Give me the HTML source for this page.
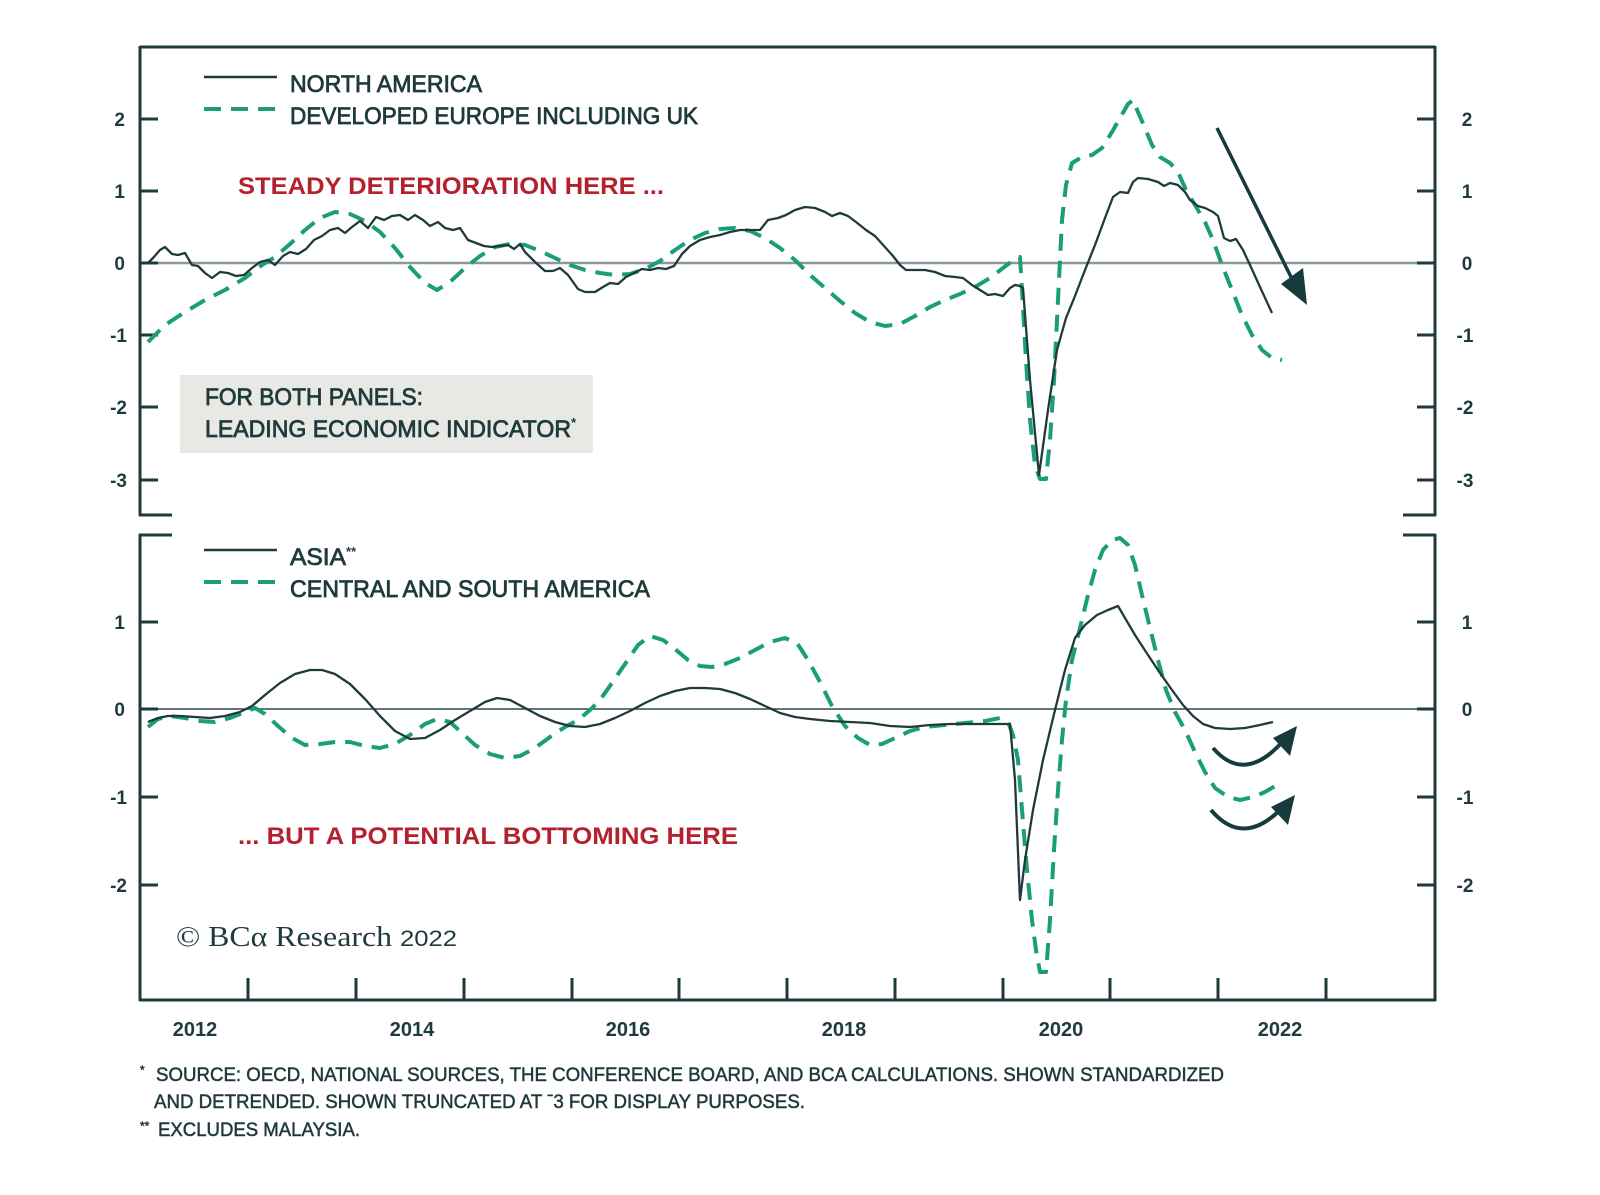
<!DOCTYPE html>
<html>
<head>
<meta charset="utf-8">
<style>
html,body{margin:0;padding:0;background:#ffffff;}
svg{display:block;}
</style>
</head>
<body>
<svg width="1600" height="1195" viewBox="0 0 1600 1195" xmlns="http://www.w3.org/2000/svg" style="font-family:'Liberation Sans',sans-serif;">
<rect width="1600" height="1195" fill="#ffffff"/>

<!-- gray box -->
<rect x="180" y="375" width="413" height="78" fill="#e8e8e4"/>

<!-- zero lines -->
<line x1="140" y1="263" x2="1435" y2="263" stroke="#8a989a" stroke-width="2.5"/>
<line x1="140" y1="709" x2="1435" y2="709" stroke="#2e4a4c" stroke-width="1.6"/>

<!-- frame -->
<g stroke="#1f3a3d" stroke-width="3" fill="none">
  <line x1="140" y1="47" x2="1435" y2="47"/>
  <line x1="140" y1="46" x2="140" y2="516"/>
  <line x1="1435" y1="46" x2="1435" y2="516"/>
  <line x1="139" y1="515" x2="172" y2="515"/>
  <line x1="1403" y1="515" x2="1436" y2="515"/>
  <line x1="139" y1="535" x2="172" y2="535"/>
  <line x1="1403" y1="535" x2="1436" y2="535"/>
  <line x1="140" y1="534" x2="140" y2="1001"/>
  <line x1="1435" y1="534" x2="1435" y2="1001"/>
  <line x1="139" y1="1000" x2="1436" y2="1000"/>
  <line x1="140" y1="119" x2="158" y2="119"/>
  <line x1="140" y1="191" x2="158" y2="191"/>
  <line x1="140" y1="263" x2="158" y2="263"/>
  <line x1="140" y1="335" x2="158" y2="335"/>
  <line x1="140" y1="407" x2="158" y2="407"/>
  <line x1="140" y1="480" x2="158" y2="480"/>
  <line x1="1417" y1="119" x2="1435" y2="119"/>
  <line x1="1417" y1="191" x2="1435" y2="191"/>
  <line x1="1417" y1="263" x2="1435" y2="263"/>
  <line x1="1417" y1="335" x2="1435" y2="335"/>
  <line x1="1417" y1="407" x2="1435" y2="407"/>
  <line x1="1417" y1="480" x2="1435" y2="480"/>
  <line x1="140" y1="622" x2="158" y2="622"/>
  <line x1="140" y1="709" x2="158" y2="709"/>
  <line x1="140" y1="797" x2="158" y2="797"/>
  <line x1="140" y1="885" x2="158" y2="885"/>
  <line x1="1417" y1="622" x2="1435" y2="622"/>
  <line x1="1417" y1="709" x2="1435" y2="709"/>
  <line x1="1417" y1="797" x2="1435" y2="797"/>
  <line x1="1417" y1="885" x2="1435" y2="885"/>
  <line x1="248" y1="978" x2="248" y2="1000"/>
  <line x1="356" y1="978" x2="356" y2="1000"/>
  <line x1="464" y1="978" x2="464" y2="1000"/>
  <line x1="572" y1="978" x2="572" y2="1000"/>
  <line x1="679" y1="978" x2="679" y2="1000"/>
  <line x1="787" y1="978" x2="787" y2="1000"/>
  <line x1="895" y1="978" x2="895" y2="1000"/>
  <line x1="1003" y1="978" x2="1003" y2="1000"/>
  <line x1="1110" y1="978" x2="1110" y2="1000"/>
  <line x1="1218" y1="978" x2="1218" y2="1000"/>
  <line x1="1326" y1="978" x2="1326" y2="1000"/>
</g>

<!-- y labels -->
<g font-size="19" font-weight="bold" fill="#1f3a3d">
  <g text-anchor="end">
    <text x="125" y="126">2</text>
    <text x="125" y="198">1</text>
    <text x="125" y="270">0</text>
    <text x="127" y="342">-1</text>
    <text x="127" y="414">-2</text>
    <text x="127" y="487">-3</text>
    <text x="125" y="629">1</text>
    <text x="125" y="716">0</text>
    <text x="127" y="804">-1</text>
    <text x="127" y="892">-2</text>
  </g>
  <g text-anchor="middle">
    <text x="1467" y="126">2</text>
    <text x="1467" y="198">1</text>
    <text x="1467" y="270">0</text>
    <text x="1465" y="342">-1</text>
    <text x="1465" y="414">-2</text>
    <text x="1465" y="487">-3</text>
    <text x="1467" y="629">1</text>
    <text x="1467" y="716">0</text>
    <text x="1465" y="804">-1</text>
    <text x="1465" y="892">-2</text>
  </g>
</g>

<!-- x labels -->
<g font-size="20" font-weight="bold" fill="#1f3a3d" text-anchor="middle">
  <text x="195" y="1036">2012</text>
  <text x="412" y="1036">2014</text>
  <text x="628" y="1036">2016</text>
  <text x="844" y="1036">2018</text>
  <text x="1061" y="1036">2020</text>
  <text x="1280" y="1036">2022</text>
</g>

<!-- legends -->
<line x1="204" y1="77" x2="277" y2="77" stroke="#1f3a3d" stroke-width="2.5"/>
<line x1="204" y1="109" x2="277" y2="109" stroke="#1a9e77" stroke-width="4" stroke-dasharray="17,10"/>
<g font-size="24" fill="#1f3a3d" stroke="#1f3a3d" stroke-width="0.8">
  <text x="290" y="92" textLength="192" lengthAdjust="spacingAndGlyphs">NORTH AMERICA</text>
  <text x="290" y="124" textLength="408" lengthAdjust="spacingAndGlyphs">DEVELOPED EUROPE INCLUDING UK</text>
  <text x="205" y="405" textLength="218" lengthAdjust="spacingAndGlyphs">FOR BOTH PANELS:</text>
  <text x="205" y="437" textLength="366" lengthAdjust="spacingAndGlyphs">LEADING ECONOMIC INDICATOR</text>
  <text x="290" y="565" textLength="56" lengthAdjust="spacingAndGlyphs">ASIA</text>
  <text x="290" y="597" textLength="360" lengthAdjust="spacingAndGlyphs">CENTRAL AND SOUTH AMERICA</text>
</g>
<g font-size="13" fill="#1f3a3d" font-weight="bold">
  <text x="571" y="427">*</text>
  <text x="346" y="556">**</text>
</g>
<line x1="204" y1="550" x2="277" y2="550" stroke="#1f3a3d" stroke-width="2.5"/>
<line x1="204" y1="582" x2="277" y2="582" stroke="#1a9e77" stroke-width="4" stroke-dasharray="17,10"/>

<!-- red annotations -->
<g font-size="24" font-weight="bold" fill="#b5202e">
  <text x="238" y="194" textLength="426" lengthAdjust="spacingAndGlyphs">STEADY DETERIORATION HERE ...</text>
  <text x="238" y="844" textLength="500" lengthAdjust="spacingAndGlyphs">... BUT A POTENTIAL BOTTOMING HERE</text>
</g>

<!-- BCA -->
<text x="176" y="946" style="font-family:'Liberation Serif',serif;" font-size="29" fill="#1f3a3d" textLength="216" lengthAdjust="spacingAndGlyphs">© BCα Research</text>
<text x="400" y="946" font-size="22" fill="#1f3a3d" textLength="57" lengthAdjust="spacingAndGlyphs">2022</text>

<!-- footnotes -->
<g font-size="19" fill="#1f3a3d" stroke="#1f3a3d" stroke-width="0.5">
  <text x="140" y="1074" font-size="12">*</text>
  <text x="156" y="1081" textLength="1068" lengthAdjust="spacingAndGlyphs">SOURCE: OECD, NATIONAL SOURCES, THE CONFERENCE BOARD, AND BCA CALCULATIONS. SHOWN STANDARDIZED</text>
  <text x="154" y="1108" textLength="651" lengthAdjust="spacingAndGlyphs">AND DETRENDED. SHOWN TRUNCATED AT ˉ3 FOR DISPLAY PURPOSES.</text>
  <text x="140" y="1130" font-size="12">**</text>
  <text x="158" y="1136" textLength="202" lengthAdjust="spacingAndGlyphs">EXCLUDES MALAYSIA.</text>
</g>

<!-- TOP PANEL: Europe dashed -->
<polyline fill="none" stroke="#1a9e77" stroke-width="4" stroke-dasharray="17,10" stroke-linejoin="round"
points="148,342 165,325 185,312 205,300 225,290 245,278 262,265 275,257 290,244 305,230 320,218 335,212 350,214 365,221 380,232 395,248 410,267 425,283 437,290 450,282 465,268 480,256 495,247 510,244 525,245 540,251 555,258 570,265 585,270 600,273 615,275 630,274 645,269 660,261 675,250 690,240 705,233 720,229 735,228 750,231 765,238 780,248 795,260 810,275 825,288 840,301 855,313 870,322 885,326 900,324 915,316 930,307 945,300 960,294 975,287 990,278 1003,268 1015,259 1020,257 1022,290 1026,360 1030,420 1035,465 1040,479 1046,479 1050,440 1054,380 1058,300 1062,220 1066,185 1072,163 1082,157 1092,155 1102,148 1112,132 1120,118 1128,104 1133,100 1138,112 1145,128 1152,145 1160,157 1170,163 1178,172 1186,190 1195,205 1205,222 1213,240 1222,265 1232,290 1242,315 1252,335 1262,350 1272,358 1282,360"/>

<!-- TOP PANEL: North America solid -->
<polyline fill="none" stroke="#1f3a3d" stroke-width="2.3" stroke-linejoin="round"
points="148,263 153,258 160,250 165,247 172,254 178,255 185,253 192,265 198,266 205,273 212,278 220,272 228,273 236,276 244,275 252,268 260,262 268,260 275,265 283,256 290,252 298,254 306,249 314,240 322,236 330,230 338,228 345,233 352,227 360,221 368,228 376,217 384,220 392,216 400,215 408,220 415,215 423,220 430,226 438,222 445,228 453,230 460,228 468,240 476,243 484,246 492,247 500,246 508,245 514,249 520,244 525,252 535,262 545,271 553,271 560,268 568,275 578,289 585,292 595,292 603,287 610,283 618,284 626,277 634,273 642,269 650,270 658,268 666,269 674,266 682,254 690,246 700,240 710,237 720,235 730,232 740,230 750,230 760,230 768,220 778,218 786,215 795,210 805,207 815,208 825,212 832,216 840,213 848,216 856,222 866,230 875,236 884,246 893,256 900,265 906,270 915,270 925,270 935,272 945,276 955,277 963,278 972,285 980,290 988,295 995,294 1003,296 1010,288 1015,285 1020,286 1023,288 1030,380 1039,475 1048,410 1057,350 1066,318 1075,296 1085,270 1095,245 1105,218 1113,197 1120,192 1128,193 1133,182 1138,178 1148,179 1158,182 1164,186 1170,183 1178,185 1185,192 1190,200 1198,206 1205,208 1213,212 1218,216 1224,238 1230,241 1236,239 1243,250 1250,265 1260,287 1272,313"/>

<!-- top arrow -->
<line x1="1217" y1="128" x2="1295" y2="285" stroke="#173b3c" stroke-width="3.5"/>
<polygon points="1307,305 1281,284 1303,268" fill="#173b3c"/>

<!-- BOTTOM PANEL: Central & South America dashed -->
<polyline fill="none" stroke="#1a9e77" stroke-width="4" stroke-dasharray="17,10" stroke-linejoin="round"
points="148,727 158,719 170,716 185,718 200,721 215,722 230,718 245,712 255,708 265,714 278,726 292,738 305,745 320,744 335,742 350,742 365,746 380,748 395,744 410,735 425,724 437,719 450,722 462,733 475,745 490,754 505,758 520,756 535,748 550,737 565,727 578,720 590,710 600,700 612,683 625,664 638,645 650,636 663,640 675,649 688,660 700,666 712,667 725,664 740,658 755,650 770,642 785,638 797,643 808,660 820,682 832,706 845,726 858,738 870,745 882,744 895,738 910,731 925,727 945,725 965,723 985,721 1000,718 1008,722 1013,735 1018,760 1022,810 1027,870 1032,920 1036,950 1040,972 1046,972 1050,920 1054,850 1058,790 1062,740 1066,700 1072,660 1080,628 1088,595 1095,570 1103,550 1112,540 1120,538 1128,545 1135,565 1142,595 1150,628 1158,660 1166,690 1175,712 1185,730 1195,752 1205,772 1215,788 1228,797 1240,800 1253,797 1265,792 1275,786 1282,780"/>

<!-- BOTTOM PANEL: Asia solid -->
<polyline fill="none" stroke="#1f3a3d" stroke-width="2.3" stroke-linejoin="round"
points="148,722 158,718 168,716 180,716 195,717 210,718 225,716 240,712 252,706 265,695 280,683 295,674 310,670 322,670 335,674 350,684 365,699 380,716 395,731 410,739 425,738 440,730 455,720 470,711 485,702 497,698 510,700 525,708 540,716 555,722 570,726 585,727 600,724 615,718 630,711 645,703 660,696 675,691 690,688 705,688 720,689 735,693 750,699 765,706 780,713 795,717 810,719 830,721 850,722 870,723 890,726 910,727 930,725 950,724 975,724 1000,724 1010,724 1015,780 1020,900 1025,860 1033,810 1043,760 1055,710 1065,670 1075,638 1085,625 1097,615 1108,610 1118,606 1125,618 1135,635 1148,655 1160,673 1172,690 1183,705 1193,716 1203,724 1215,728 1230,729 1245,728 1260,725 1273,722"/>

<!-- curved arrows -->
<path d="M1213,748 Q1245,785 1284,740" fill="none" stroke="#173b3c" stroke-width="4"/>
<polygon points="1297,726 1273,738 1290,756" fill="#173b3c"/>
<path d="M1211,810 Q1243,848 1282,808" fill="none" stroke="#173b3c" stroke-width="4"/>
<polygon points="1295,795 1271,807 1288,825" fill="#173b3c"/>

</svg>
</body>
</html>
